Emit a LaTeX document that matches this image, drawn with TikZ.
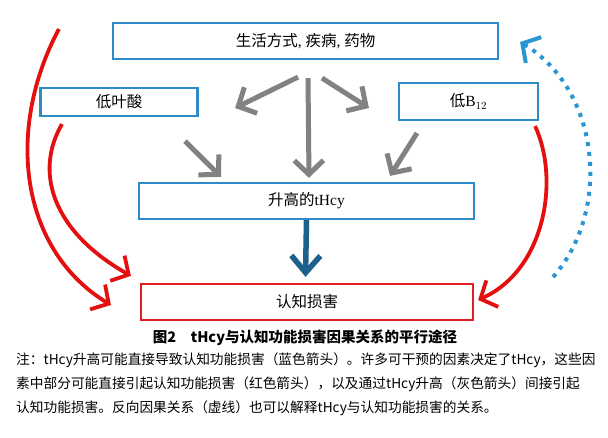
\documentclass[tikz,border=0pt]{standalone}
\usepackage{fontspec}
\setmainfont{Liberation Serif}
\newfontfamily\cjk{Noto Sans CJK SC}
\usetikzlibrary{arrows.meta,calc}
\definecolor{boxblue}{RGB}{45,140,200}
\definecolor{boxred}{RGB}{225,30,35}
\definecolor{arrgray}{RGB}{130,130,130}
\definecolor{arrred}{RGB}{228,16,16}
\definecolor{arrdark}{RGB}{30,96,140}
\definecolor{arrdot}{RGB}{40,150,210}
\tikzset{
  box/.style={draw=boxblue, line width=2.2pt, fill=white, inner sep=0pt, font=\fontsize{15.5}{17}\selectfont},
  redbox/.style={box, draw=boxred},
  grayarr/.style={draw=arrgray, line width=5pt, -{Straight Barb[length=14pt,width=29pt]}},
  redarr/.style={draw=arrred, line width=3.8pt, -{Straight Barb[length=13pt,width=29pt]}},
  darkarr/.style={draw=arrdark, line width=5.5pt, -{Straight Barb[length=17pt,width=29pt]}},
  dotarr/.style={draw=arrdot, line width=4pt, dash pattern=on 4pt off 6pt, -{Straight Barb[length=13pt,width=30pt]}},
  txt/.style={inner sep=0pt, font=\cjk\fontsize{13.7}{16}\selectfont, anchor=west}
}
\begin{document}
\begin{tikzpicture}[x=1pt,y=-1pt]
\useasboundingbox (0,0) rectangle (608,438);
\fill[white] (0,0) rectangle (608,438);
% boxes
\node[box, minimum width=385pt, minimum height=36pt] (top) at (305.5,41) {{\cjk 生活方式}, {\cjk 疾病}, {\cjk 药物}};
\node[box, minimum width=157pt, minimum height=28pt] (folate) at (119,102) {\cjk 低叶酸};
\node[box, minimum width=139pt, minimum height=37pt] (b12) at (468.5,101.5) {{\cjk 低}B$_{12}$};
\node[box, minimum width=335pt, minimum height=36pt] (thcy) at (306.5,201) {{\cjk 升高的}tHcy};
\node[redbox, minimum width=332pt, minimum height=36pt] (cog) at (307,302) {\cjk 认知损害};
% gray arrows
\draw[grayarr] ($(top.south)+(-7.5,17)$) -- ($(folate.east)+(36.5,6)$);
\draw[grayarr] ($(top.south)+(2.5,18)$) -- ($(thcy.north)+(2.5,-4)$);
\draw[grayarr] ($(top.south)+(16.5,18)$) -- ($(b12.west)+(-29,6.5)$);
\draw[grayarr] ($(folate.south)+(66,24)$) -- ($(thcy.north)+(-85.5,-5)$);
\draw[grayarr] ($(b12.south)+(-51.5,12)$) -- ($(thcy.north)+(83.5,-6)$);
% dark blue
\draw[darkarr] (thcy.south) -- ($(cog.north)+(-1.5,-6)$);
% red
\draw[redarr] ($(top.west)+(-53,-12)$) .. controls (5,130) and (20,250) .. ($(cog.west)+(-29,3)$);
\draw[redarr] ($(folate.south)+(-57,7)$) .. controls (35,170) and (50,230) .. ($(cog.north west)+(-9,-7)$);
\draw[redarr] ($(b12.south east)+(-4,5)$) .. controls (560,180) and (545,270) .. ($(cog.east)+(4,-2)$);
% dotted reverse
\draw[dotarr] ($(cog.east)+(79,-25)$) .. controls (612,210) and (600,90) .. ($(top.east)+(21,1)$);
% caption
\node[inner sep=0pt, font=\cjk\bfseries\fontsize{14.5}{16}\selectfont] (cap) at (305,338) {图2\quad tHcy与认知功能损害因果关系的平行途径};
\node[txt] (n1) at (16,360) {注：tHcy升高可能直接导致认知功能损害（蓝色箭头）。许多可干预的因素决定了tHcy，这些因};
\node[txt] (n2) at (16,384) {素中部分可能直接引起认知功能损害（红色箭头），以及通过tHcy升高（灰色箭头）间接引起};
\node[txt] (n3) at (16,408) {认知功能损害。反向因果关系（虚线）也可以解释tHcy与认知功能损害的关系。};
\end{tikzpicture}
\end{document}
